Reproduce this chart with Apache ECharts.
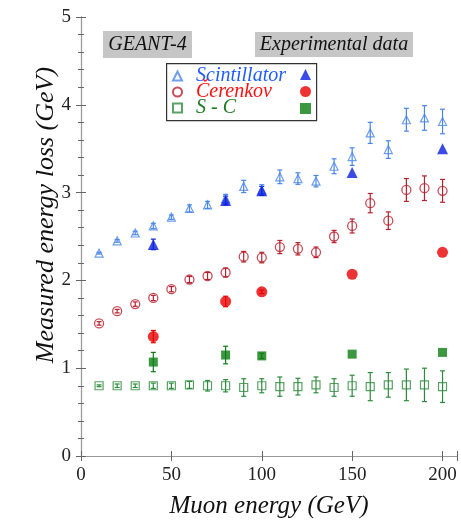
<!DOCTYPE html>
<html>
<head>
<meta charset="utf-8">
<script src="https://cdn.jsdelivr.net/npm/echarts@6/dist/echarts.min.js"></script>
<style>
  html, body { margin: 0; padding: 0; background: #fff; }
  #chart { width: 461px; height: 524px; }
</style>
</head>
<body>
<div id="chart"></div>
<script>
// GEANT-4 simulation points
var energySim = [10, 20, 30, 40, 50, 60, 70, 80, 90, 100, 110, 120, 130, 140, 150, 160, 170, 180, 190, 200];
var scintSim = [2.31, 2.45, 2.54, 2.62, 2.72, 2.82, 2.86, 2.93, 3.07, 3.03, 3.18, 3.16, 3.13, 3.30, 3.41, 3.68, 3.49, 3.83, 3.85, 3.81];
var scintSimErr = [0.01, 0.015, 0.02, 0.03, 0.025, 0.04, 0.04, 0.05, 0.07, 0.06, 0.078, 0.066, 0.065, 0.085, 0.10, 0.12, 0.10, 0.13, 0.14, 0.14];
var cerSim = [1.51, 1.65, 1.73, 1.80, 1.90, 2.01, 2.05, 2.09, 2.27, 2.26, 2.38, 2.36, 2.32, 2.50, 2.62, 2.88, 2.68, 3.03, 3.05, 3.02];
var cerSimErr = [0.02, 0.02, 0.025, 0.03, 0.03, 0.035, 0.04, 0.05, 0.06, 0.06, 0.075, 0.07, 0.06, 0.07, 0.08, 0.11, 0.10, 0.13, 0.14, 0.13];
var scSim = [0.80, 0.80, 0.80, 0.80, 0.80, 0.81, 0.80, 0.80, 0.78, 0.80, 0.79, 0.79, 0.81, 0.78, 0.80, 0.79, 0.81, 0.81, 0.81, 0.79];
var scSimErr = [0.01, 0.02, 0.02, 0.03, 0.03, 0.04, 0.06, 0.07, 0.10, 0.08, 0.11, 0.095, 0.09, 0.10, 0.12, 0.16, 0.14, 0.18, 0.19, 0.18];

// experimental points
var energyExp = [40, 80, 100, 150, 200];
var scintExp = [2.41, 2.91, 3.02, 3.23, 3.50];
var scintExpErr = [0.06, 0.05, 0.05, 0, 0];
var cerExp = [1.36, 1.76, 1.87, 2.07, 2.32];
var cerExpErr = [0.07, 0.06, 0.02, 0, 0];
var scExp = [1.07, 1.15, 1.14, 1.16, 1.18];
var scExpErr = [0.11, 0.10, 0.03, 0, 0];

var xTicks = [0, 50, 100, 150, 200];

var serif = 'Liberation Serif';

function pairs(xs, ys) {
  return xs.map(function (x, i) { return [x, ys[i]]; });
}
function errData(xs, ys, es) {
  return xs.map(function (x, i) { return [x, ys[i], es[i]]; });
}

// vertical error bar with small caps
function errSeries(xs, ys, es, color) {
  return {
    type: 'custom',
    silent: true,
    z: 3,
    data: errData(xs, ys, es),
    renderItem: function (params, api) {
      var x = api.value(0), y = api.value(1), e = api.value(2);
      if (!e) return null;
      var lo = api.coord([x, y - e]);
      var hi = api.coord([x, y + e]);
      var st = { stroke: color, lineWidth: 1.2 };
      return {
        type: 'group',
        children: [
          { type: 'line', shape: { x1: lo[0], y1: lo[1], x2: hi[0], y2: hi[1] }, style: st },
          { type: 'line', shape: { x1: lo[0] - 2.5, y1: lo[1], x2: lo[0] + 2.5, y2: lo[1] }, style: st },
          { type: 'line', shape: { x1: hi[0] - 2.5, y1: hi[1], x2: hi[0] + 2.5, y2: hi[1] }, style: st }
        ]
      };
    }
  };
}

var cScint = '#4a86e8', cScintExp = '#0a1ee0';
var cCer = '#b8202e', cCerExp = '#e80000';
var cSc = '#2e8b3e', cScExp = '#0b7d12';

var chart = echarts.init(document.getElementById('chart'));
var option = {
  animation: false,
  backgroundColor: '#fff',
  grid: { left: 81, right: 4, top: 17, bottom: 67 },
  xAxis: [{
    type: 'value', min: 0, max: 208, interval: 50,
    name: 'Muon energy (GeV)', nameLocation: 'middle', nameGap: 38,
    nameTextStyle: { fontFamily: serif, fontStyle: 'italic', fontSize: 25, color: '#111' },
    axisLine: { lineStyle: { color: '#777', width: 1.2 } },
    axisTick: { inside: true, length: 5, lineStyle: { color: '#666' } },
    axisLabel: {
      margin: 10, fontFamily: serif, fontSize: 19, color: '#222',
      formatter: function (v) { return xTicks.indexOf(v) >= 0 ? String(v) : ''; }
    },
    splitLine: { show: false }
  }, {
    type: 'value', min: 0, max: 208, interval: 50, position: 'top',
    axisLine: { show: true, lineStyle: { color: '#999', width: 1 } },
    axisTick: { inside: true, length: 5, lineStyle: { color: '#666' } },
    axisLabel: { show: false }, splitLine: { show: false }
  }],
  yAxis: [{
    type: 'value', min: 0, max: 5, interval: 1,
    axisLine: { show: true, lineStyle: { color: '#777', width: 1.2 } },
    axisTick: { inside: true, length: 5, lineStyle: { color: '#666' } },
    minorTick: { show: true, splitNumber: 5, length: 3, lineStyle: { color: '#666' } },
    axisLabel: { margin: 10, fontFamily: serif, fontSize: 19, color: '#222' },
    splitLine: { show: false }
  }, {
    type: 'value', min: 0, max: 5, interval: 1, position: 'right',
    axisLine: { show: true, lineStyle: { color: '#999', width: 1 } },
    axisTick: { inside: true, length: 5, lineStyle: { color: '#666' } },
    minorTick: { show: true, splitNumber: 5, length: 3, lineStyle: { color: '#666' } },
    axisLabel: { show: false }, splitLine: { show: false }
  }],
  legend: [{
    orient: 'vertical', left: 172, top: 66, padding: 0,
    itemWidth: 9, itemHeight: 9, itemGap: -4,
    textStyle: { fontFamily: serif, fontStyle: 'italic', fontSize: 20, padding: [0, 0, 0, 9] },
    data: [
      { name: 'Scintillator', textStyle: { color: '#1f5cff' } },
      { name: 'Čerenkov', textStyle: { color: '#ff1010' } },
      { name: 'S - C', textStyle: { color: '#1c7a22' } }
    ]
  }, {
    orient: 'vertical', left: 300, top: 69, padding: 0,
    itemWidth: 11, itemHeight: 11, itemGap: 6,
    formatter: function () { return ''; },
    textStyle: { fontSize: 10 },
    data: ['Scintillator (exp)', 'Čerenkov (exp)', 'S - C (exp)']
  }],
  graphic: [
    { type: 'rect', left: 103, top: 31, shape: { width: 89, height: 27 }, style: { fill: '#c6c6c6' }, z: 0 },
    { type: 'text', x: 147.5, y: 45, style: { text: 'GEANT-4', font: 'italic 20px "Liberation Serif"', fill: '#111', align: 'center', verticalAlign: 'middle' }, z: 1 },
    { type: 'rect', left: 255, top: 32, shape: { width: 158, height: 25 }, style: { fill: '#c6c6c6' }, z: 0 },
    { type: 'text', x: 334, y: 44.5, style: { text: 'Experimental data', font: 'italic 20px "Liberation Serif"', fill: '#111', align: 'center', verticalAlign: 'middle' }, z: 1 },
    { type: 'rect', left: 166, top: 63, shape: { width: 150, height: 57 }, style: { fill: 'rgba(0,0,0,0)', stroke: '#333', lineWidth: 1.2 }, z: 1 },
    { type: 'text', x: 46, y: 215, rotation: Math.PI / 2, style: { text: 'Measured energy loss (GeV)', font: 'italic 26px "Liberation Serif"', fill: '#111', align: 'center', verticalAlign: 'middle' }, z: 1 }
  ],
  series: [
    errSeries(energySim, scintSim, scintSimErr, cScint),
    errSeries(energySim, cerSim, cerSimErr, cCer),
    errSeries(energySim, scSim, scSimErr, cSc),
    errSeries(energyExp, scintExp, scintExpErr, cScintExp),
    errSeries(energyExp, cerExp, cerExpErr, cCerExp),
    errSeries(energyExp, scExp, scExpErr, cScExp),
    {
      name: 'Scintillator', type: 'scatter', symbol: 'triangle', symbolSize: 8, z: 4,
      itemStyle: { color: 'rgba(255,255,255,0)', borderColor: cScint, borderWidth: 1.2 },
      data: pairs(energySim, scintSim)
    },
    {
      name: 'Čerenkov', type: 'scatter', symbol: 'circle', symbolSize: 9, z: 4,
      itemStyle: { color: 'rgba(255,255,255,0)', borderColor: cCer, borderWidth: 1.3 },
      data: pairs(energySim, cerSim)
    },
    {
      name: 'S - C', type: 'scatter', symbol: 'rect', symbolSize: 8, z: 4,
      itemStyle: { color: 'rgba(255,255,255,0)', borderColor: cSc, borderWidth: 1.2 },
      data: pairs(energySim, scSim)
    },
    {
      name: 'Scintillator (exp)', type: 'scatter', symbol: 'triangle', symbolSize: 11, z: 5,
      itemStyle: { color: cScintExp },
      data: pairs(energyExp, scintExp)
    },
    {
      name: 'Čerenkov (exp)', type: 'scatter', symbol: 'circle', symbolSize: 11, z: 5,
      itemStyle: { color: cCerExp },
      data: pairs(energyExp, cerExp)
    },
    {
      name: 'S - C (exp)', type: 'scatter', symbol: 'rect', symbolSize: 9, z: 5,
      itemStyle: { color: cScExp },
      data: pairs(energyExp, scExp)
    }
  ]
};
chart.setOption(option);
</script>
</body>
</html>
